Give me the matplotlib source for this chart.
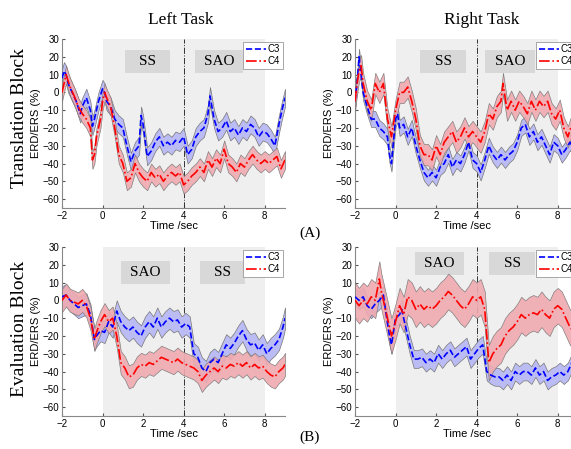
import matplotlib
matplotlib.use("Agg")
import matplotlib.pyplot as plt
from matplotlib.patches import Rectangle

# Translation block, left task
TL_C3_T = [-2, -1.9, -1.8, -1.7, -1.5, -1.3, -1.1, -1.0, -0.8, -0.6, -0.5, -0.4, -0.2, 0, 0.1, 0.2, 0.4, 0.6, 0.8, 1.0,
           1.2, 1.4, 1.6, 1.8, 1.9, 2.0, 2.2, 2.4, 2.6, 2.8, 3.0, 3.2, 3.4, 3.6, 3.8, 4.0, 4.2, 4.4, 4.6, 4.8,
           5.0, 5.2, 5.3, 5.5, 5.7, 5.9, 6.1, 6.3, 6.5, 6.7, 6.9, 7.1, 7.3, 7.5, 7.7, 7.9, 8.1, 8.3, 8.5, 8.7, 8.85, 9.0]
TL_C3_V = [8, 12, 10, 5, 0, -5, -12, -8, -3, -10, -19, -15, -5, 2, 0, -5, -8, -15, -18, -20,
           -30, -39, -33, -30, -13, -18, -36, -33, -28, -25, -30, -28, -30, -27, -28, -25, -35, -32, -25, -22,
           -20, -12, -2, -15, -22, -20, -16, -22, -20, -24, -20, -22, -18, -20, -25, -22, -23, -26, -30, -18, -10, -3]
TL_C4_T = [-2, -1.9, -1.8, -1.6, -1.4, -1.2, -1.0, -0.8, -0.6, -0.5, -0.4, -0.3, -0.1, 0, 0.1, 0.2, 0.4, 0.6, 0.8, 1.0,
           1.2, 1.4, 1.6, 1.8, 2.0, 2.2, 2.4, 2.6, 2.8, 3.0, 3.2, 3.4, 3.6, 3.8, 4.0, 4.2, 4.4, 4.6, 4.8, 5.0,
           5.2, 5.4, 5.6, 5.8, 6.0, 6.2, 6.4, 6.6, 6.8, 7.0, 7.2, 7.4, 7.6, 7.8, 8.0, 8.2, 8.4, 8.6, 8.8, 9.0]
TL_C4_V = [0, 5, 10, 3, -2, -8, -12, -15, -20, -38, -35, -25, -15, -5, 0, -3, -8, -20, -35, -40,
           -50, -48, -40, -45, -48, -50, -45, -48, -46, -50, -47, -45, -47, -45, -52, -50, -47, -45, -42, -45,
           -38, -42, -37, -40, -32, -40, -42, -45, -40, -42, -38, -35, -38, -40, -38, -40, -38, -36, -43, -38]

# Translation block, right task
TR_C3_T = [-2, -1.9, -1.8, -1.7, -1.6, -1.4, -1.2, -1.0, -0.8, -0.6, -0.4, -0.3, -0.2, 0, 0.1, 0.2, 0.4, 0.6, 0.8, 1.0,
           1.2, 1.4, 1.6, 1.8, 2.0, 2.2, 2.4, 2.6, 2.8, 3.0, 3.2, 3.4, 3.6, 3.8, 4.0, 4.2, 4.4, 4.6, 4.8, 5.0,
           5.2, 5.4, 5.6, 5.8, 6.0, 6.2, 6.4, 6.6, 6.8, 7.0, 7.2, 7.4, 7.6, 7.8, 8.0, 8.2, 8.4, 8.6, 8.8, 9.0]
TR_C3_V = [-5, 5, 20, 10, 0, -8, -15, -15, -20, -22, -25, -35, -40, -15, -12, -20, -18, -25, -20, -30,
           -38, -45, -48, -45, -48, -42, -40, -35, -42, -38, -40, -35, -28, -38, -40, -45, -38, -30, -35, -38,
           -35, -38, -35, -33, -28, -20, -18, -25, -22, -28, -25, -30, -35, -28, -30, -35, -32, -28, -32, -38]
TR_C4_T = [-2, -1.9, -1.8, -1.7, -1.6, -1.4, -1.2, -1.0, -0.8, -0.6, -0.4, -0.2, 0, 0.1, 0.2, 0.4, 0.6, 0.8, 1.0,
           1.2, 1.4, 1.6, 1.8, 2.0, 2.2, 2.4, 2.6, 2.8, 3.0, 3.2, 3.4, 3.6, 3.8, 4.0, 4.2, 4.4, 4.6, 4.8, 5.0,
           5.2, 5.3, 5.5, 5.7, 5.9, 6.1, 6.3, 6.5, 6.7, 6.9, 7.1, 7.3, 7.5, 7.7, 7.9, 8.1, 8.3, 8.5, 8.7, 9.0]
TR_C4_V = [-5, 5, 12, 15, 5, -5, -10, 5, 0, 5, -15, -25, -10, -5, 0, 0, 3, -5, -15,
           -30, -35, -35, -38, -30, -35, -28, -25, -22, -28, -25, -20, -25, -22, -25, -28, -22, -12, -15, -8,
           -5, 5, -10, -5, -10, -5, -8, -12, -5, -10, -5, -8, -5, -12, -15, -10, -20, -25, -18, -25]

# Evaluation block, left task
BL_C3_T = [-2, -1.8, -1.6, -1.4, -1.2, -1.0, -0.8, -0.6, -0.4, -0.3, -0.1, 0.1, 0.3, 0.5, 0.7, 0.9, 1.1, 1.3, 1.5, 1.7,
           1.9, 2.1, 2.3, 2.5, 2.7, 2.9, 3.1, 3.3, 3.5, 3.7, 3.9, 4.1, 4.3, 4.5, 4.7, 4.9, 5.1, 5.3, 5.5, 5.7,
           5.9, 6.1, 6.3, 6.5, 6.7, 6.9, 7.1, 7.3, 7.5, 7.7, 7.9, 8.1, 8.3, 8.5, 8.7, 8.9, 9.0]
BL_C3_V = [2, 3, 0, -2, -4, -3, -2, -8, -22, -20, -17, -18, -12, -15, -6, -12, -15, -17, -15, -18,
           -20, -15, -12, -15, -10, -15, -12, -10, -12, -11, -15, -13, -15, -30, -32, -38, -40, -35, -33, -35,
           -30, -25, -27, -24, -20, -17, -22, -25, -24, -28, -25, -30, -27, -25, -22, -15, -10]
BL_C4_T = BL_C3_T
BL_C4_V = [0, 3, 0, -1, -2, 0, -3, -10, -22, -18, -12, -8, -12, -10, -20, -35, -38, -43, -42, -38,
           -36, -37, -35, -36, -34, -32, -33, -34, -35, -33, -35, -36, -37, -38, -40, -45, -42, -40, -38, -40,
           -37, -38, -36, -37, -35, -37, -35, -38, -36, -38, -37, -40, -42, -43, -40, -38, -36]

# Evaluation block, right task
BR_C3_T = [-2, -1.8, -1.6, -1.4, -1.2, -1.0, -0.8, -0.6, -0.5, -0.3, -0.2, 0, 0.2, 0.3, 0.5, 0.7, 0.9, 1.1, 1.3, 1.5,
           1.7, 1.9, 2.1, 2.3, 2.5, 2.7, 2.9, 3.1, 3.3, 3.5, 3.7, 3.9, 4.1, 4.3, 4.5, 4.7, 4.9, 5.1, 5.3, 5.5,
           5.7, 5.9, 6.1, 6.3, 6.5, 6.7, 6.9, 7.1, 7.3, 7.5, 7.7, 7.9, 8.1, 8.3, 8.5, 8.7, 9.0]
BR_C3_V = [2, 0, 2, -3, -5, -2, 0, 3, -5, -20, -25, -10, -8, -5, -15, -25, -33, -33, -32, -35,
           -33, -35, -30, -33, -30, -28, -32, -30, -28, -26, -33, -30, -27, -25, -40, -42, -43, -43, -45, -42,
           -45, -40, -42, -40, -40, -42, -38, -42, -40, -45, -43, -42, -40, -42, -40, -35, -28]
BR_C4_T = [-2, -1.8, -1.6, -1.4, -1.2, -1.0, -0.8, -0.7, -0.5, -0.3, -0.2, 0, 0.2, 0.4, 0.6, 0.8, 1.0, 1.2, 1.4, 1.6,
           1.8, 2.0, 2.2, 2.4, 2.6, 2.8, 3.0, 3.2, 3.4, 3.6, 3.8, 4.0, 4.2, 4.4, 4.6, 4.8, 5.0, 5.2, 5.4, 5.6,
           5.8, 6.0, 6.2, 6.4, 6.6, 6.8, 7.0, 7.2, 7.4, 7.6, 7.8, 8.0, 8.2, 8.4, 8.6, 9.0]
BR_C4_V = [0, -3, 0, -2, 2, 0, 12, 5, -5, -15, -20, -12, -3, -8, 2, 0, -5, -2, -5, -3,
           -5, -3, 0, 2, 5, 3, 0, -3, -5, -2, 2, 0, 2, -5, -35, -30, -27, -25, -20, -17,
           -15, -12, -8, -10, -8, -7, -8, -5, -8, -10, -5, -3, -5, -10, -15, -20]

# half widths of the shaded bands (C3, C4)
TL_BAND = [5, 5]
TR_BAND = [4.5, 6]
BL_BAND = [6, 6.5]
BR_BAND = [5, 10]

# phase labels per panel: (text, start, end)
TL_PHASES = [("SS", 1.1, 3.33), ("SAO", 4.56, 6.93)]
TR_PHASES = [("SS", 1.21, 3.49), ("SAO", 4.42, 6.86)]
BL_PHASES = [("SAO", 0.93, 3.31), ("SS", 4.79, 7.01)]
BR_PHASES = [("SAO", 0.97, 3.39), ("SS", 4.62, 6.9)]

SERIF = "Liberation Serif"
SANS = "Liberation Sans"

fig = plt.figure(figsize=(5.71, 4.49), dpi=100)
W, H = 571.0, 449.0


def make_axes(left_px, top_px, bottom_px, width_px=223):
    return fig.add_axes([left_px / W, 1 - bottom_px / H, width_px / W, (bottom_px - top_px) / H])


def draw_panel(ax, c3_t, c3_v, c4_t, c4_v, band, phases, box_y):
    ax.axvspan(0, 8, color="#efefef", lw=0, zorder=0)
    for label, a, b in phases:
        ax.add_patch(Rectangle((a, box_y[0]), b - a, box_y[1] - box_y[0],
                               facecolor="#d8d8d8", edgecolor="none", zorder=1))
        ax.text((a + b) / 2, (box_y[0] + box_y[1]) / 2, label, ha="center", va="center",
                fontsize=11, family=SERIF, zorder=2)
    ax.axvline(4, color="#333333", ls="-.", lw=0.7, zorder=2)

    c3_lo = [v - band[0] for v in c3_v]
    c3_hi = [v + band[0] for v in c3_v]
    c4_lo = [v - band[1] for v in c4_v]
    c4_hi = [v + band[1] for v in c4_v]
    ax.fill_between(c3_t, c3_lo, c3_hi, facecolor="#bcbcf4", edgecolor="#777777", lw=0.5, zorder=3)
    ax.fill_between(c4_t, c4_lo, c4_hi, facecolor="#efaab0", edgecolor="#777777", lw=0.5, alpha=0.9, zorder=3)
    ax.plot(c3_t, c3_v, color="#0000ff", ls="--", lw=1.2, label="C3", zorder=4)
    ax.plot(c4_t, c4_v, color="#ff0000", ls="-.", lw=1.2, label="C4", zorder=4)

    ax.set_xlim(-2, 9)
    ax.set_ylim(-65, 30)
    ax.set_xticks([-2, 0, 2, 4, 6, 8])
    ax.set_yticks(range(-60, 31, 10))
    ax.tick_params(labelsize=7, length=2, direction="in", color="#555555", pad=2)
    for lbl in ax.get_xticklabels() + ax.get_yticklabels():
        lbl.set_family(SANS)
    ax.spines["top"].set_visible(False)
    ax.spines["right"].set_visible(False)
    ax.spines["left"].set_color("#888888")
    ax.spines["bottom"].set_color("#888888")
    ax.set_xlabel("Time /sec", fontsize=8, family=SANS, labelpad=0)
    ax.set_ylabel("ERD/ERS (%)", fontsize=8, family=SANS, labelpad=1)
    leg = ax.legend(loc="upper right", fontsize=7, handlelength=2.0, borderpad=0.3,
                    labelspacing=0.15, handletextpad=0.2, fancybox=False, framealpha=1,
                    borderaxespad=0.0, bbox_to_anchor=(0.99, 0.985))
    leg.get_frame().set_edgecolor("#999999")
    leg.get_frame().set_linewidth(0.6)
    for t in leg.get_texts():
        t.set_family(SANS)


ax_tl = make_axes(62, 39, 208)
ax_tr = make_axes(355, 39, 208)
ax_bl = make_axes(62, 247, 416)
ax_br = make_axes(355, 247, 416)

draw_panel(ax_tl, TL_C3_T, TL_C3_V, TL_C4_T, TL_C4_V, TL_BAND, TL_PHASES, (11, 24))
draw_panel(ax_tr, TR_C3_T, TR_C3_V, TR_C4_T, TR_C4_V, TR_BAND, TR_PHASES, (11, 24))
draw_panel(ax_bl, BL_C3_T, BL_C3_V, BL_C4_T, BL_C4_V, BL_BAND, BL_PHASES, (9, 22))
draw_panel(ax_br, BR_C3_T, BR_C3_V, BR_C4_T, BR_C4_V, BR_BAND, BR_PHASES, (14, 27))

fig.text(181 / W, 1 - 20 / H, "Left Task", ha="center", va="center", fontsize=12.5, family=SERIF)
fig.text(482 / W, 1 - 20 / H, "Right Task", ha="center", va="center", fontsize=12.5, family=SERIF)
fig.text(20 / W, 1 - 118 / H, "Translation Block", ha="center", va="center", rotation=90,
         fontsize=14, family=SERIF)
fig.text(20 / W, 1 - 329 / H, "Evaluation Block", ha="center", va="center", rotation=90,
         fontsize=14, family=SERIF)
fig.text(310 / W, 1 - 233 / H, "(A)", ha="center", va="center", fontsize=11, family=SERIF)
fig.text(310 / W, 1 - 437 / H, "(B)", ha="center", va="center", fontsize=11, family=SERIF)

fig.savefig("out.png", dpi=100)
